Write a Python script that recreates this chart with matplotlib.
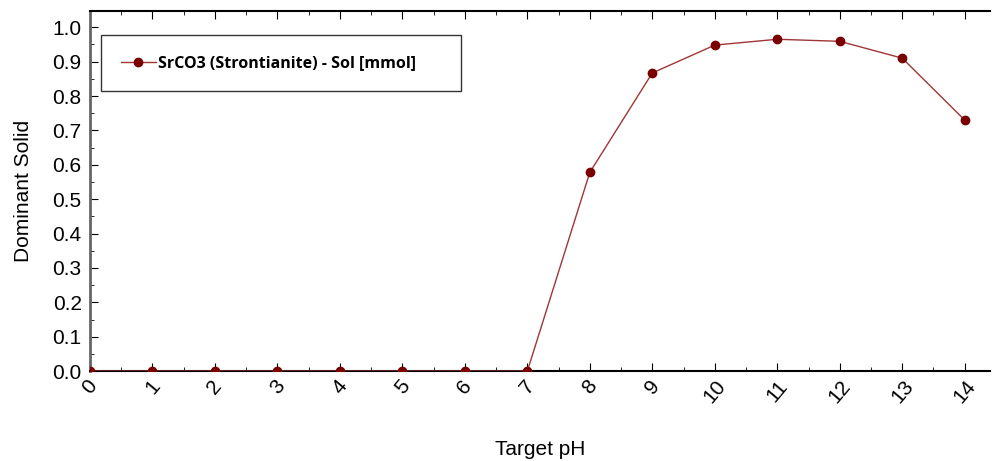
import matplotlib
matplotlib.use("Agg")
import matplotlib.pyplot as plt
from matplotlib.ticker import MultipleLocator, FormatStrFormatter

ph = [0, 1, 2, 3, 4, 5, 6, 7, 8, 9, 10, 11, 12, 13, 14]
srco3 = [0, 0, 0, 0, 0, 0, 0, 0, 0.578, 0.867, 0.948, 0.965, 0.959, 0.910, 0.730]
series_label = "SrCO3 (Strontianite) - Sol [mmol]"
xlabel = "Target pH"
ylabel = "Dominant Solid"

plt.rcParams["font.family"] = ["Liberation Sans", "DejaVu Sans"]

fig = plt.figure(figsize=(9.92, 4.61), dpi=100)
ax = fig.add_axes([0.0907, 0.195, 0.907, 0.781])

line, = ax.plot(ph, srco3, color="#a03535", lw=1.0,
                marker="o", ms=6, mfc="#7a0000", mec="#7a0000", zorder=3)

ax.set_xlim(0, 14.4)
ax.set_ylim(0, 1.047)
ax.xaxis.set_major_locator(MultipleLocator(1))
ax.xaxis.set_minor_locator(MultipleLocator(0.5))
ax.yaxis.set_major_locator(MultipleLocator(0.1))
ax.yaxis.set_minor_locator(MultipleLocator(0.05))
ax.yaxis.set_major_formatter(FormatStrFormatter("%.1f"))

ax.spines["right"].set_visible(False)
ax.spines["left"].set_color("#666666")
ax.spines["left"].set_linewidth(2)
ax.spines["bottom"].set_linewidth(1.5)
ax.spines["top"].set_linewidth(1.5)

ax.tick_params(axis="x", which="both", direction="in", top=True, bottom=True,
               labelsize=15, pad=4)
ax.tick_params(axis="x", which="major", length=6)
ax.tick_params(axis="x", which="minor", length=3)
ax.tick_params(axis="y", which="both", direction="in", left=True, right=False,
               labelsize=15, pad=6)
ax.tick_params(axis="y", which="major", length=6)
ax.tick_params(axis="y", which="minor", length=3)
for lab in ax.get_xticklabels():
    lab.set_rotation(50)
    lab.set_ha("center")
    lab.set_va("top")

ax.set_xlabel(xlabel, fontsize=15, labelpad=24)
ax.set_ylabel(ylabel, fontsize=15, labelpad=14)

leg = ax.legend([line], [series_label], loc="upper left",
                bbox_to_anchor=(0.0122, 0.781, 0.4, 0.152), mode="expand",
                frameon=True, fancybox=False, edgecolor="black",
                borderpad=1.25, handlelength=2.2, handletextpad=0.15,
                borderaxespad=0,
                prop={"family": "Open Sans", "weight": "bold", "size": 11.5})
leg.get_frame().set_linewidth(1.0)

fig.savefig("out.png", dpi=100)
